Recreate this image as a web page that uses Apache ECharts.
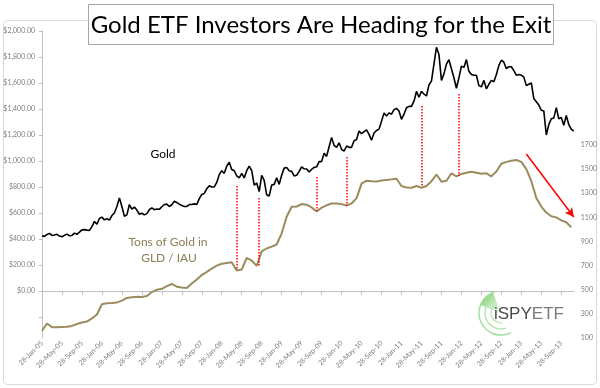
<!DOCTYPE html>
<html>
<head>
<meta charset="utf-8">
<script src="https://cdn.jsdelivr.net/npm/echarts@6/dist/echarts.min.js"></script>
<style>html,body{margin:0;padding:0;background:#fff;}#c{width:600px;height:388px;}</style>
</head>
<body>
<div id="c"></div>
<script>
// ---- data ----
const monthNames = ['Jan','Feb','Mar','Apr','May','Jun','Jul','Aug','Sep','Oct','Nov','Dec'];
// Gold price (USD/oz), sampled on the 28th and the 13th of each month, 28-Jan-05 .. 13-Dec-13
const gold2005 = [424,420,435,443,427,430,436,422,417,428,437,425,427,445,436,452,470,472,468,466,495,535,513,557];
const gold2006 = [568,547,556,545,580,600,650,715,650,575,585,665,630,645,622,590,598,585,595,625,640,625,630,628];
const gold2007 = [648,665,668,650,663,690,680,668,657,650,650,665,665,670,665,710,743,750,787,810,800,800,835,895];
const gold2008 = [925,905,960,990,935,925,885,870,905,870,925,960,925,815,830,765,890,850,740,730,815,820,870,820];
const gold2009 = [890,945,950,925,920,885,890,920,955,940,938,915,935,950,955,995,995,1060,1035,1110,1180,1120,1105,1140];
const gold2010 = [1090,1075,1115,1105,1105,1155,1165,1230,1210,1225,1240,1205,1160,1215,1235,1245,1305,1370,1345,1370,1360,1395,1405,1385];
const gold2011 = [1320,1360,1410,1420,1420,1460,1535,1490,1535,1515,1500,1585,1615,1745,1875,1820,1620,1670,1745,1780,1710,1640,1560,1640];
const gold2012 = [1730,1720,1780,1690,1665,1660,1660,1580,1570,1620,1555,1590,1620,1610,1665,1735,1775,1760,1710,1725,1725,1695,1660,1665];
const gold2013 = [1660,1645,1580,1590,1600,1480,1455,1430,1390,1385,1200,1280,1325,1330,1410,1325,1335,1275,1350,1280,1245,1230];
// Tons of gold held in GLD + IAU, on the 28th of each month, Jan-05 .. Nov-13
const tons = [160,220,190,190,192,193,200,216,228,236,262,295,
  380,388,390,395,410,432,438,442,440,448,481,500,
  508,530,548,525,518,515,552,585,622,648,675,700,
  715,722,728,660,668,765,742,698,818,842,858,875,
  968,1105,1188,1190,1210,1205,1182,1150,1180,1200,1215,1215,
  1210,1199,1215,1260,1380,1404,1400,1398,1405,1410,1415,1420,
  1360,1348,1346,1360,1346,1360,1400,1455,1396,1404,1465,1440,
  1460,1470,1478,1470,1461,1465,1440,1480,1545,1560,1570,1576,
  1560,1500,1400,1260,1190,1140,1109,1100,1075,1060,1018];
// Red dotted markers: category index, top (gold $), bottom (gold $)
const markerIdx = [78, 87, 110, 122, 152, 167];
const markerTop = [808, 715, 877, 1031, 1423, 1515];
const markerBottom = [169, 185, 615, 654, 800, 885];
// Red arrow (right-axis tons)
const arrowIdx = [194, 213];
const arrowTons = [1625, 1103];
const leftTicks = [-200,0,200,400,600,800,1000,1200,1400,1600,1800,2000];
const leftLabels = [0,200,400,600,800,1000,1200,1400,1600,1800,2000];
const rightLabels = [100,300,500,700,900,1100,1300,1500,1700];

// ---- build ----
const categories = [];
for (let m = 0; m < 107; m++) {
  const y = 2005 + Math.floor(m / 12);
  categories.push('28-' + monthNames[m % 12] + '-' + String(y).slice(2));
  const m2 = m + 1, y2 = 2005 + Math.floor(m2 / 12);
  categories.push('13-' + monthNames[m2 % 12] + '-' + String(y2).slice(2));
}
const goldPrice = [].concat(gold2005, gold2006, gold2007, gold2008, gold2009, gold2010, gold2011, gold2012, gold2013);
const tonsData = tons.map((v, k) => [2 * k, v]);

const chart = echarts.init(document.getElementById('c'), null, {renderer: 'canvas'});
const axisGray = '#bfbfbf';
const labelGray = '#7f7f7f';
const fontFam = 'Lato, "Liberation Sans", sans-serif';

chart.setOption({
  animation: false,
  backgroundColor: '#fff',
  grid: {left: 42, right: 25, top: 31, bottom: 50},
  xAxis: {
    type: 'category', data: categories, boundaryGap: false,
    axisLine: {lineStyle: {color: axisGray, width: 1}},
    axisTick: {interval: 7, length: 4, lineStyle: {color: axisGray}},
    axisLabel: {interval: 7, rotate: 45, fontSize: 7, color: labelGray, margin: 4, fontFamily: fontFam},
    splitLine: {show: false}
  },
  yAxis: [{
    type: 'value', min: -362, max: 2000, position: 'left',
    axisLine: {show: true, lineStyle: {color: axisGray}},
    axisTick: {show: true, length: 3, lineStyle: {color: axisGray}, customValues: leftTicks},
    axisLabel: {customValues: leftLabels, fontSize: 7, color: labelGray, margin: 7, fontFamily: fontFam,
      formatter: v => '$' + Number(v).toLocaleString('en-US', {minimumFractionDigits: 2, maximumFractionDigits: 2})},
    splitLine: {show: false}
  }, {
    type: 'value', min: 100, max: 2645, position: 'right',
    axisLine: {show: false}, axisTick: {show: false},
    axisLabel: {customValues: rightLabels, fontSize: 7, color: labelGray, margin: 7, fontFamily: fontFam,
      formatter: v => String(Math.round(v))},
    splitLine: {show: false}
  }],
  series: [{
    name: 'Gold', type: 'line', yAxisIndex: 0, data: goldPrice,
    symbol: 'none', lineStyle: {color: '#000', width: 1.6}, z: 3,
    markLine: {
      silent: true, symbol: 'none', label: {show: false},
      lineStyle: {color: '#ff0000', type: 'dotted', width: 1.5},
      emphasis: {disabled: true},
      data: markerIdx.map((ix, i) => [{coord: [ix, markerTop[i]]}, {coord: [ix, markerBottom[i]]}])
    }
  }, {
    name: 'Tons of Gold in GLD / IAU', type: 'line', yAxisIndex: 1, data: tonsData,
    symbol: 'none', lineStyle: {color: '#9a8c5c', width: 2}, z: 2,
    markLine: {
      silent: true, symbol: ['none', 'arrow'], symbolSize: [7, 9], label: {show: false},
      lineStyle: {color: '#ff0000', type: 'solid', width: 1.5},
      emphasis: {disabled: true},
      data: [[{coord: [arrowIdx[0], arrowTons[0]]}, {coord: [arrowIdx[1], arrowTons[1]]}]]
    }
  }],
  graphic: [
    {type: 'rect', z: -10, silent: true, shape: {x: 3.5, y: 20.5, width: 593, height: 364, r: 4},
      style: {fill: 'none', stroke: '#d9d9d9', lineWidth: 1}},
    {type: 'rect', z: 10, silent: true, shape: {x: 88.5, y: 4.5, width: 465, height: 40},
      style: {fill: '#fff', stroke: '#a6a6a6', lineWidth: 1}},
    {type: 'text', z: 11, silent: true, x: 321, y: 25,
      style: {text: 'Gold ETF Investors Are Heading for the Exit', fill: '#000', font: '24px ' + fontFam,
        align: 'center', verticalAlign: 'middle'}},
    {type: 'text', z: 11, silent: true, x: 163, y: 154,
      style: {text: 'Gold', fill: '#000', font: '12px ' + fontFam, align: 'center', verticalAlign: 'middle'}},
    {type: 'text', z: 11, silent: true, x: 168, y: 242,
      style: {text: 'Tons of Gold in', fill: '#8c7e55', font: '12px ' + fontFam, align: 'center', verticalAlign: 'middle'}},
    {type: 'text', z: 11, silent: true, x: 169, y: 258,
      style: {text: 'GLD / IAU', fill: '#8c7e55', font: '12px ' + fontFam, align: 'center', verticalAlign: 'middle'}},
    // logo
    {type: 'sector', z: 1, silent: true, shape: {cx: 501, cy: 313, r0: 0, r: 22, startAngle: Math.PI * 1.12, endAngle: Math.PI * 1.38},
      style: {fill: new echarts.graphic.LinearGradient(1, 1, 0, 0, [{offset: 0, color: 'rgba(140,215,120,0.1)'}, {offset: 1, color: 'rgba(90,190,70,0.9)'}])}},
    {type: 'arc', z: 1, silent: true, shape: {cx: 501, cy: 313, r: 22, startAngle: Math.PI * 0.35, endAngle: Math.PI * 1.4, clockwise: true},
      style: {stroke: '#9be09b', lineWidth: 1.5, fill: 'none'}},
    {type: 'arc', z: 1, silent: true, shape: {cx: 501, cy: 313, r: 16, startAngle: Math.PI * 0.4, endAngle: Math.PI * 1.35, clockwise: true},
      style: {stroke: '#a8e4a8', lineWidth: 1.3, fill: 'none'}},
    {type: 'arc', z: 1, silent: true, shape: {cx: 501, cy: 313, r: 10, startAngle: Math.PI * 0.45, endAngle: Math.PI * 1.3, clockwise: true},
      style: {stroke: '#b8e8b8', lineWidth: 1.2, fill: 'none'}},
    {type: 'text', z: 2, silent: true, x: 494, y: 314,
      style: {text: '{a|iSPY}{b|ETF}', verticalAlign: 'middle',
        rich: {a: {fill: '#4a4a4a', font: '17px "Liberation Sans", sans-serif'}, b: {fill: '#7a7a7a', font: '17px "Liberation Sans", sans-serif'}}}}
  ]
});
</script>
</body>
</html>
